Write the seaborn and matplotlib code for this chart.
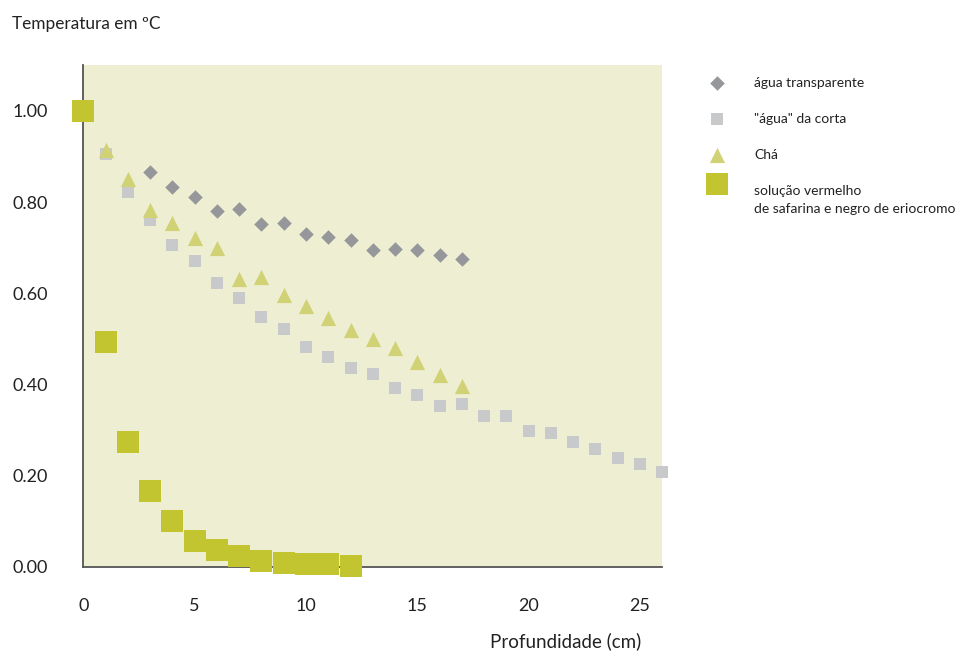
import matplotlib
matplotlib.use('Agg')
import matplotlib.pyplot as plt
import pandas as pd
import seaborn as sns

sns.set_style('white')
plt.rcParams['font.family'] = ['Lato', 'DejaVu Sans']

# profundidade (cm) e temperatura relativa
depth_agua = list(range(3, 18))
temp_agua = [0.865, 0.833, 0.812, 0.780, 0.784, 0.752, 0.753, 0.729,
             0.724, 0.716, 0.695, 0.698, 0.695, 0.684, 0.674]

depth_corta = list(range(1, 27))
temp_corta = [0.905, 0.821, 0.760, 0.705, 0.670, 0.623, 0.590, 0.547,
              0.521, 0.483, 0.461, 0.437, 0.423, 0.393, 0.377, 0.352,
              0.358, 0.330, 0.330, 0.298, 0.293, 0.273, 0.258, 0.238,
              0.225, 0.208]

depth_cha = list(range(1, 18))
temp_cha = [0.915, 0.850, 0.782, 0.753, 0.720, 0.700, 0.632, 0.635,
            0.595, 0.571, 0.546, 0.519, 0.500, 0.479, 0.449, 0.420, 0.396]

depth_sol = list(range(0, 13))
temp_sol = [1.00, 0.494, 0.273, 0.167, 0.101, 0.056, 0.036, 0.023,
            0.012, 0.009, 0.007, 0.007, 0.001]

labels = ['água transparente', '"água" da corta', 'Chá',
          'solução vermelho\nde safarina e negro de eriocromo']
x_ticks = [0, 5, 10, 15, 20, 25]
y_ticks = [0.0, 0.2, 0.4, 0.6, 0.8, 1.0]

series = [
    (depth_agua, temp_agua, 'D', '#96979b', 55),
    (depth_corta, temp_corta, 's', '#c8c9cb', 80),
    (depth_cha, temp_cha, '^', '#d0d275', 120),
    (depth_sol, temp_sol, 's', '#c2c430', 270),
]

fig = plt.figure(figsize=(9.68, 6.59), dpi=100)
ax = fig.add_axes([0.0861, 0.140, 0.598, 0.761])
ax.set_facecolor('#eeefd2')

for (xs, ys, marker, color, size), label in zip(series, labels):
    df = pd.DataFrame({'x': xs, 'y': ys})
    sns.scatterplot(data=df, x='x', y='y', ax=ax, marker=marker, color=color,
                    s=size, linewidth=0, clip_on=False, label=label, zorder=3)

ax.set_xlim(0, 26)
ax.set_ylim(0, 1.1)
ax.set_xticks(x_ticks)
ax.set_yticks(y_ticks)
ax.set_yticklabels([f'{v:.2f}' for v in y_ticks])
ax.set_xlabel('')
ax.set_ylabel('')

for side in ['top', 'right']:
    ax.spines[side].set_visible(False)
for side in ['left', 'bottom']:
    ax.spines[side].set_color('#555555')
    ax.spines[side].set_linewidth(1.3)

ax.tick_params(axis='both', which='major', direction='out', length=9.5,
               width=1.0, color='#555555', labelsize=13, labelcolor='#222222')
ax.tick_params(axis='y', pad=16)
ax.tick_params(axis='x', pad=13)
ax.xaxis.get_major_ticks()[0].tick1line.set_visible(False)
ax.yaxis.get_major_ticks()[0].tick1line.set_visible(False)

fig.text(12 / 968, 1 - 24 / 659, 'Temperatura em ºC', fontsize=12.4,
         color='#222222', va='center', ha='left')
fig.text(641 / 968, 1 - 641 / 659, 'Profundidade (cm)', fontsize=13.5,
         color='#222222', va='center', ha='right')

leg = ax.legend(loc='upper left', bbox_to_anchor=(703 / 968, 1 - 77 / 659),
                bbox_transform=fig.transFigure, frameon=False, fontsize=10,
                labelspacing=1.72, handletextpad=1.67, borderpad=0,
                borderaxespad=0, labelcolor='#222222')
leg.get_texts()[3].set_linespacing(1.6)
# marker of the two-line entry sits level with its first line
handle = leg.legend_handles[3]
offsets = handle.get_offsets()
offsets[:, 1] += 12
handle.set_offsets(offsets)

fig.savefig('out.png', dpi=100)
